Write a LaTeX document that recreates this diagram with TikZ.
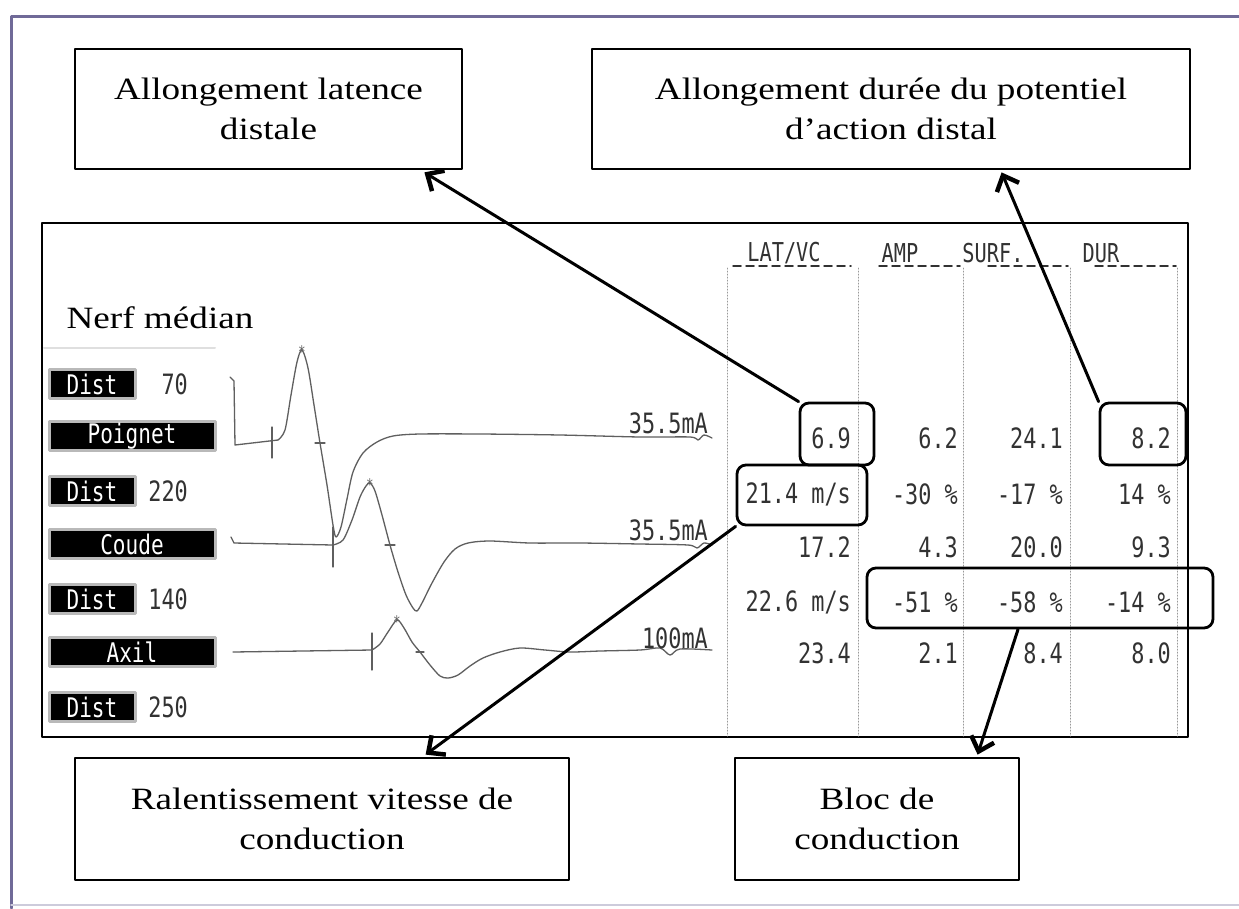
\documentclass[tikz,border=0pt]{standalone}
\usepackage{fontspec}
\setmainfont{Liberation Serif}
\newfontfamily\boxfont[FakeStretch=1.2]{Liberation Serif}
\newfontfamily\emgfont[FakeStretch=0.78]{DejaVu Sans Mono}
\usetikzlibrary{arrows.meta,calc}
\definecolor{framelila}{RGB}{112,106,152}
\definecolor{tracegray}{RGB}{95,95,95}
\definecolor{valgray}{RGB}{50,50,50}

\begin{document}
\begin{tikzpicture}[line cap=round,line join=round,x=1pt,y=-1pt,
    callout/.style={draw=black,line width=2.8pt,fill=white,align=center,inner sep=0pt,
        font={\boxfont\fontsize{31}{40}\selectfont}},
    hilite/.style={draw=black,line width=2.8pt,rounded corners=9pt,inner sep=0pt},
    pointer/.style={line width=3pt,-{Straight Barb[length=13pt,width=24pt,line width=4.5pt]}},
    tag/.style={fill=black,draw=gray!55,line width=3pt,text=white,inner sep=0pt,anchor=west,
        minimum height=29,font={\emgfont\fontsize{27}{28}\selectfont}},
    val/.style={anchor=east,inner sep=0pt,text=valgray,font={\emgfont\fontsize{28}{30}\selectfont}},
    colhead/.style={inner sep=0pt,text=valgray,font={\emgfont\fontsize{26}{27}\selectfont}},
    trace/.style={draw=tracegray,line width=1.3pt},
    colsep/.style={draw=gray!80,line width=1pt,dash pattern=on 1pt off 2pt}]
    \useasboundingbox (0,0) rectangle (1239,908);
    \fill[white] (0,0) rectangle (1239,908);
    % outer frame
    \draw[framelila,line width=3pt] (11,908) -- (11,16) -- (1239,16);
    \draw[framelila!35,line width=1.5pt] (11,905) -- (1239,905);

    % recording panel
    \draw[line width=2.8pt] (42,223) rectangle (1188,737);
    \node[inner sep=0pt,font={\boxfont\fontsize{31}{40}\selectfont}] (nerf) at (160,318) {Nerf médian};
    \draw[gray!25,line width=2pt] (44,348) -- (215,348);

    % stimulation sites
    \node[tag,minimum width=86] (dist1) at (47.5,384) {Dist};
    \node[val] (d1) at (188,384) {70};
    \node[tag,minimum width=166] (poignet) at (47.5,436) {Poignet};
    \node[tag,minimum width=86] (dist2) at (47.5,491) {Dist};
    \node[val] (d2) at (188,491) {220};
    \node[tag,minimum width=166] (coude) at (47.5,544) {Coude};
    \node[tag,minimum width=86] (dist3) at (47.5,599) {Dist};
    \node[val] (d3) at (188,599) {140};
    \node[tag,minimum width=166] (axil) at (47.5,652) {Axil};
    \node[tag,minimum width=86] (dist4) at (47.5,707) {Dist};
    \node[val] (d4) at (188,707) {250};

    % traces
    \draw[trace] (230,377) -- (234,381) -- (235,445) -- (278,440);
    \draw[trace] plot[smooth,tension=0.5] coordinates {(278,440) (285,430) (291,395) (297,362) (302,350) (308,368) (314,405) (320,443) (327,485) (333,525) (336,537) (341,527) (347,499) (353,472) (363,453) (377,442) (393,436) (420,434) (480,434) (560,435) (640,437) (690,437) (698,440) (704,435) (712,438)};
    \draw[trace] (272,427) -- (272,458);
    \draw[trace] (315,443) -- (325,443);
    \node[inner sep=0pt,font=\emgfont\fontsize{16}{16}\selectfont,text=tracegray] (pk1) at (302,352) {*};
    \draw[trace] (231,537) -- (234,543) -- (333,545);
    \draw[trace] plot[smooth,tension=0.5] coordinates {(333,545) (343,540) (352,520) (360,497) (366,486) (370,483) (375,491) (382,515) (390,545) (398,572) (406,595) (413,608) (417,611) (422,603) (432,583) (444,562) (455,549) (468,543) (490,541) (530,543) (580,543) (640,544) (688,545) (697,548) (704,543) (712,545)};
    \draw[trace] (333,527) -- (333,567);
    \draw[trace] (385,545) -- (395,545);
    \node[inner sep=0pt,font=\emgfont\fontsize{16}{16}\selectfont,text=tracegray] (pk2) at (370,485) {*};
    \draw[trace] (233,652) -- (372,650);
    \draw[trace] plot[smooth,tension=0.5] coordinates {(372,650) (380,644) (388,632) (397,620) (404,628) (412,642) (420,652) (430,665) (440,676) (448,678) (458,675) (470,666) (483,658) (500,652) (520,648) (545,650) (570,652) (600,651) (640,650) (660,648) (670,655) (680,649) (712,650)};
    \draw[trace] (372,633) -- (372,670);
    \draw[trace] (416,652) -- (424,652);
    \node[inner sep=0pt,font=\emgfont\fontsize{16}{16}\selectfont,text=tracegray] (pk3) at (397,622) {*};
    \node[val] (i1) at (708,423) {35.5mA};
    \node[val] (i2) at (708,530) {35.5mA};
    \node[val] (i3) at (708,638) {100mA};

    % table
    \foreach \cx in {727,858,963,1070,1177}
        \draw[colsep] (\cx,268) -- (\cx,736);
    \node[colhead] (hlat) at (784,253) {LAT/VC};
    \node[colhead] (hamp) at (900,253) {AMP};
    \node[colhead] (hsurf) at (993,253) {SURF.};
    \node[colhead] (hdur) at (1101,253) {DUR};
    \draw[valgray,line width=1.5pt,dash pattern=on 8pt off 5pt] (733,266) -- (851,266);
    \draw[valgray,line width=1.5pt,dash pattern=on 8pt off 5pt] (879,266) -- (960,266);
    \draw[valgray,line width=1.5pt,dash pattern=on 8pt off 5pt] (988,266) -- (1068,266);
    \draw[valgray,line width=1.5pt,dash pattern=on 8pt off 5pt] (1095,266) -- (1176,266);

    \node[val] (v11) at (851,438) {6.9};
    \node[val] (v12) at (958,438) {6.2};
    \node[val] (v13) at (1063,438) {24.1};
    \node[val] (v14) at (1171,438) {8.2};
    \node[val] (v21) at (851,494) {21.4 m/s};
    \node[val] (v22) at (958,494) {-30 \%};
    \node[val] (v23) at (1063,494) {-17 \%};
    \node[val] (v24) at (1171,494) {14 \%};
    \node[val] (v31) at (851,547) {17.2};
    \node[val] (v32) at (958,547) {4.3};
    \node[val] (v33) at (1063,547) {20.0};
    \node[val] (v34) at (1171,547) {9.3};
    \node[val] (v41) at (851,602) {22.6 m/s};
    \node[val] (v42) at (958,602) {-51 \%};
    \node[val] (v43) at (1063,602) {-58 \%};
    \node[val] (v44) at (1171,602) {-14 \%};
    \node[val] (v51) at (851,653) {23.4};
    \node[val] (v52) at (958,653) {2.1};
    \node[val] (v53) at (1063,653) {8.4};
    \node[val] (v54) at (1171,653) {8.0};

    % highlighted cells
    \node[hilite,minimum width=74,minimum height=62] (b69) at (837,434) {};
    \node[hilite,minimum width=86,minimum height=62] (b82) at (1143,434) {};
    \node[hilite,minimum width=130,minimum height=60] (b214) at (802,495) {};
    \node[hilite,minimum width=346,minimum height=60] (bloc) at (1040,598) {};

    % comments
    \node[callout,minimum width=387,minimum height=120] (latence) at (268.5,109) {Allongement latence\\distale};
    \node[callout,minimum width=598,minimum height=120] (duree) at (891,109) {Allongement durée du potentiel\\d’action distal};
    \node[callout,minimum width=494,minimum height=122] (vitesse) at (322,819) {Ralentissement vitesse de\\conduction};
    \node[callout,minimum width=284,minimum height=122] (bloccond) at (877,819) {Bloc de\\conduction};

    \coordinate (t1) at ($(latence.south east)+(-39,2)$);
    \coordinate (t2) at ($(duree.south west)+(411,2)$);
    \coordinate (t3) at ($(vitesse.north west)+(352,-2)$);
    \coordinate (t4) at ($(bloccond.north west)+(244,-2)$);
    \draw[pointer] (b69.north west) -- (t1);
    \draw[pointer] (b82.north west) -- (t2);
    \draw[pointer] (b214.south west) -- (t3);
    \draw[pointer] ($(bloc.south)+(-22,0)$) -- (t4);
\end{tikzpicture}
\end{document}
